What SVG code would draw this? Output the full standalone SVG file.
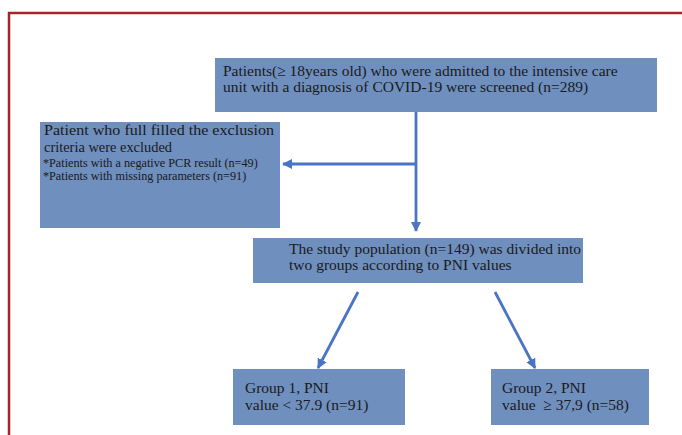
<svg xmlns="http://www.w3.org/2000/svg" width="682" height="435" viewBox="0 0 682 435">
<defs>
<style>
.box{fill:#6f8fbf;}
.t{font-family:"Liberation Serif","Times New Roman",serif;font-size:15.5px;fill:#1a1a1a;}
.e{font-family:"Liberation Serif","Times New Roman",serif;font-size:14.8px;fill:#1a1a1a;}
.s{font-family:"Liberation Serif","Times New Roman",serif;font-size:12.2px;fill:#1a1a1a;}
.c{stroke:#4a74c4;stroke-width:2.8;fill:none;}
</style>
<marker id="ah" viewBox="0 0 10 10" refX="9" refY="5" markerWidth="3.6" markerHeight="3.6" orient="auto" markerUnits="strokeWidth">
<path d="M0,0 L10,5 L0,10 z" fill="#4a74c4"/>
</marker>
</defs>
<rect width="682" height="435" fill="#ffffff"/>
<path d="M9,437 L9,13 L684,13" fill="none" stroke="#a3242b" stroke-width="2.5"/>
<g id="connectors">
<line class="c" x1="416" y1="112" x2="416" y2="231" marker-end="url(#ah)"/>
<line class="c" x1="416" y1="164" x2="283" y2="164" marker-end="url(#ah)"/>
<line class="c" x1="358" y1="292" x2="318" y2="368" marker-end="url(#ah)"/>
<line class="c" x1="495" y1="292" x2="535" y2="368" marker-end="url(#ah)"/>
</g>
<g id="screened">
<rect class="box" x="215" y="58" width="442" height="54"/>
<text class="t" x="223" y="76">Patients(≥ 18years old) who were admitted to the intensive care</text>
<text class="t" x="223" y="92">unit with a diagnosis of COVID-19 were screened (n=289)</text>
</g>
<g id="excluded">
<rect class="box" x="40" y="122" width="240" height="106"/>
<text class="e" x="44" y="135" textLength="230" lengthAdjust="spacingAndGlyphs">Patient who full filled the exclusion</text>
<text class="e" x="44" y="152" textLength="128" lengthAdjust="spacingAndGlyphs">criteria were excluded</text>
<text class="s" x="43" y="166.5">*Patients with a negative PCR result (n=49)</text>
<text class="s" x="43" y="180.2">*Patients with missing parameters (n=91)</text>
</g>
<g id="study">
<rect class="box" x="253" y="238" width="330" height="45"/>
<text class="t" x="289" y="254">The study population (n=149) was divided into</text>
<text class="t" x="289" y="270">two groups according to PNI values</text>
</g>
<g id="group1">
<rect class="box" x="233" y="369" width="172" height="56"/>
<text class="t" x="245" y="393">Group 1, PNI</text>
<text class="t" x="245" y="410">value &lt; 37.9 (n=91)</text>
</g>
<g id="group2">
<rect class="box" x="491" y="369" width="158" height="56"/>
<text class="t" x="502" y="393">Group 2, PNI</text>
<text class="t" x="502" y="410">value&#160; ≥ 37,9 (n=58)</text>
</g>
</svg>
